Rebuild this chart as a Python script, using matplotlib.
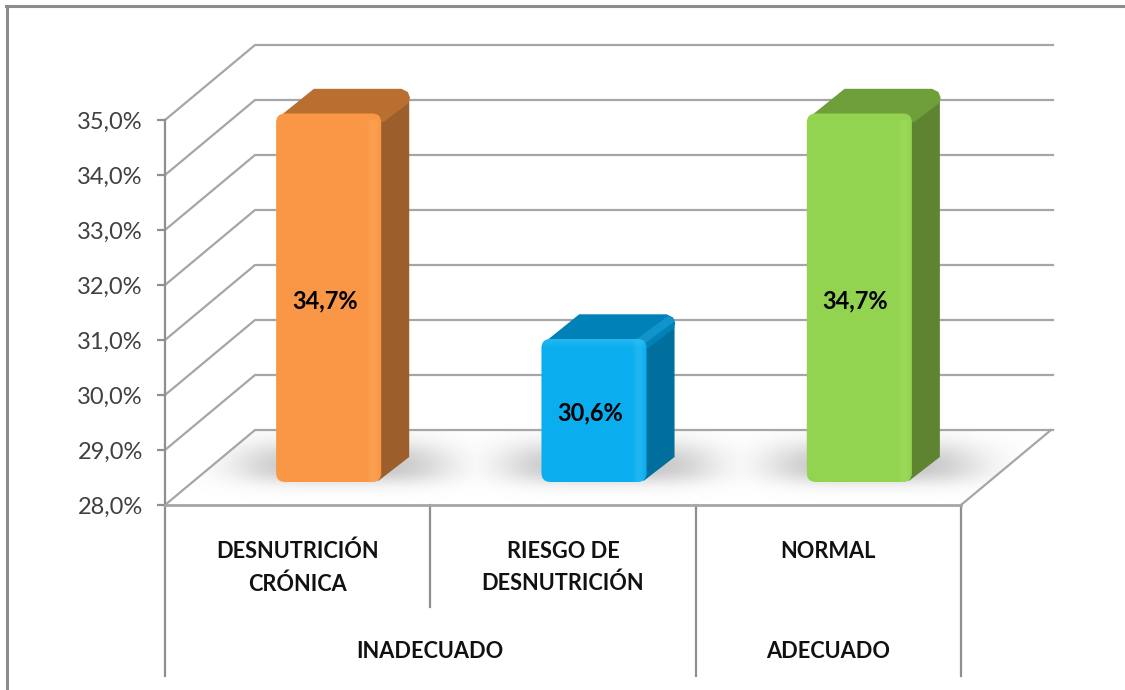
import matplotlib
matplotlib.use('Agg')
import matplotlib.pyplot as plt
import numpy as np
from matplotlib.patches import FancyBboxPatch, Polygon, Rectangle
from matplotlib.transforms import IdentityTransform

categorias = ['DESNUTRICIÓN\nCRÓNICA', 'RIESGO DE\nDESNUTRICIÓN', 'NORMAL']
grupos = ['INADECUADO', 'ADECUADO']
grupo_pos = [1.0, 2.5]
valores = [34.7, 30.6, 34.7]
etiquetas = ['34,7%', '30,6%', '34,7%']
y_ticks = [28, 29, 30, 31, 32, 33, 34, 35]

frente = ['#F99746', '#0AAEEE', '#92D350']
lado = ['#9C5F2B', '#006F9E', '#5E8431']
arriba = ['#B86F30', '#0082B8', '#6F9F3A']
brillo = ['#FFAE5C', '#3CC4F7', '#A8E264']

W, H = 1125, 690
plt.rcParams['font.family'] = ['Lato', 'DejaVu Sans']
GRIS = '#a6a6a6'
EJE = '#8f8f8f'
DX, DY = 90, 75

fig = plt.figure(figsize=(W / 100, H / 100), dpi=100, facecolor='white')
ax = fig.add_axes([165 / W, (H - 505) / H, 796 / W, 385 / H])
ax.set_xlim(0, 3)
ax.set_ylim(28, 35)
ax.patch.set_visible(False)
px_por_unidad = 385 / 7


def abajo(px):
    return 28 - px / px_por_unidad


# marco de la imagen, solo izquierda y arriba
fig.add_artist(plt.Line2D([7 / W, 7 / W], [0, 1 - 6 / H], color='#8c8c8c', lw=2.2))
fig.add_artist(plt.Line2D([6 / W, 1], [1 - 6 / H, 1 - 6 / H], color='#8c8c8c', lw=2.2))

# sombras sobre el piso
yy, xx = np.mgrid[0:H, 0:W]
sombra = np.zeros((H, W))
for i in range(3):
    cx = ax.transData.transform((i + 0.5, 28))[0] + 45
    sx = np.tanh((xx - cx + 95) / 38) - np.tanh((xx - cx - 95) / 38)
    sy = np.tanh((yy - 447) / 15) - np.tanh((yy - 479) / 10)
    sombra = np.maximum(sombra, sx * sy / 4)
# recorte al piso
piso = (yy >= 430) & (yy <= 505) & (xx >= 165 + (505 - yy) * DX / DY) & (xx <= 961 + (505 - yy) * DX / DY)
img = np.zeros((H, W, 4))
img[..., :3] = 0.55
img[..., 3] = np.clip(sombra * 0.6, 0, 1) * piso
fig.figimage(img, 0, 0, origin='upper', zorder=-1)

# pared del fondo y piso
for t in y_ticks:
    p0 = ax.transData.transform((0, t))
    p1 = p0 + np.array([DX, DY])
    p2 = ax.transData.transform((3, t)) + np.array([DX + 2, DY])
    ax.plot([p0[0], p1[0], p2[0]], [p0[1], p1[1], p2[1]], transform=IdentityTransform(),
            color=GRIS, lw=1.6, clip_on=False, zorder=1, solid_joinstyle='round')
p0 = ax.transData.transform((3, 28))
ax.plot([p0[0], p0[0] + DX], [p0[1], p0[1] + DY], transform=IdentityTransform(),
        color=GRIS, lw=1.6, clip_on=False, zorder=1)

# ejes
for s in ['top', 'right']:
    ax.spines[s].set_visible(False)
ax.spines['left'].set_color(EJE)
ax.spines['bottom'].set_color(GRIS)
ax.spines['left'].set_linewidth(1.6)
ax.spines['bottom'].set_linewidth(2)
ax.set_xticks([])
ax.set_yticks(y_ticks)
ax.set_yticklabels([f'{t:.1f}%'.replace('.', ',') for t in y_ticks], fontsize=17, color='#404040')
ax.tick_params(axis='y', length=6, width=1.6, color=EJE, pad=10)

# divisiones del eje de categorias
ax.plot([0, 0], [28, abajo(171)], color=EJE, lw=1.6, clip_on=False)
ax.plot([1, 1], [28, abajo(102)], color=EJE, lw=1.6, clip_on=False)
ax.plot([2, 2], [28, abajo(171)], color=EJE, lw=1.6, clip_on=False)
ax.plot([3, 3], [28, abajo(171)], color=EJE, lw=1.6, clip_on=False)

# barras 3D
ancho = 0.396
fx, fy = 31, 23
bx, by = 29, 25
for i, v in enumerate(valores):
    x0, y0 = ax.transData.transform((i + 0.5 - ancho / 2, 28)) + np.array([fx, fy])
    x1, y1 = ax.transData.transform((i + 0.5 + ancho / 2, v)) + np.array([fx, fy])
    tr = IdentityTransform()

    ax.add_patch(Polygon([(x1 - 3, y0 + 1), (x1 + bx - 1, y0 + by), (x1 + bx - 1, y1 + by - 12), (x1 - 3, y1)],
                         closed=True, fc=lado[i], ec='none', transform=tr, clip_on=False, zorder=3))
    tapa = Polygon([(x0 + 7, y1 - 1), (x0 + bx + 9, y1 + by - 1), (x1 + bx - 9, y1 + by - 1),
                    (x1 + bx - 3, y1 + by - 4), (x1 + bx - 1, y1 + by - 9), (x1 + bx - 2, y1 + by - 14),
                    (x1 + 2, y1 - 8)],
                   closed=True, fc=arriba[i], ec=arriba[i], lw=1, joinstyle='round',
                   transform=tr, clip_on=False, zorder=3)
    ax.add_patch(tapa)
    # arista clara entre tapa y lado
    arista, = ax.plot([x1 - 4, x1 + bx - 6], [y1 - 1, y1 + by - 6], transform=tr, color=brillo[i],
                      alpha=0.28, lw=6, zorder=3.2)
    arista.set_clip_path(tapa)

    cara = FancyBboxPatch((x0 + 3, y0 + 3), x1 - x0 - 6, y1 - y0 - 6,
                          boxstyle='round,pad=3,rounding_size=9', fc=frente[i], ec='none',
                          transform=tr, clip_on=False, zorder=4)
    ax.add_patch(cara)
    # bisel claro a la derecha y arriba
    for k in range(14):
        a = 0.4 * np.sin(np.pi * (k + 0.5) / 14)
        r = Rectangle((x1 - 15 + k, y0), 1, y1 - y0, fc=brillo[i], ec='none', alpha=a,
                      transform=tr, zorder=4.1)
        ax.add_patch(r)
        r.set_clip_path(cara)
    for k in range(10):
        r = Rectangle((x0, y1 - 10 + k), x1 - x0, 1, fc=brillo[i], ec='none', alpha=0.05 * k,
                      transform=tr, zorder=4.1)
        ax.add_patch(r)
        r.set_clip_path(cara)

    ax.annotate(etiquetas[i], xy=(i + 0.5, 28), xytext=(27, (505 - (301 if v > 32 else 413))),
                textcoords='offset pixels', ha='center', va='center', fontsize=17,
                fontweight='bold', color='black', zorder=6, annotation_clip=False)

# etiquetas de categorias
for i, c in enumerate(categorias):
    ax.annotate(c, xy=(i + 0.5, 28), xytext=(0, -(541 - 505)), textcoords='offset pixels',
                ha='center', va='top', fontsize=15.7, fontweight='bold', color='#111111',
                linespacing=1.62, annotation_clip=False)
for g, x in zip(grupos, grupo_pos):
    ax.annotate(g, xy=(x, 28), xytext=(0, -(652 - 505)), textcoords='offset pixels',
                ha='center', va='center', fontsize=15.7, fontweight='bold', color='#111111',
                annotation_clip=False)

fig.savefig('out.png', dpi=100, facecolor='white')
